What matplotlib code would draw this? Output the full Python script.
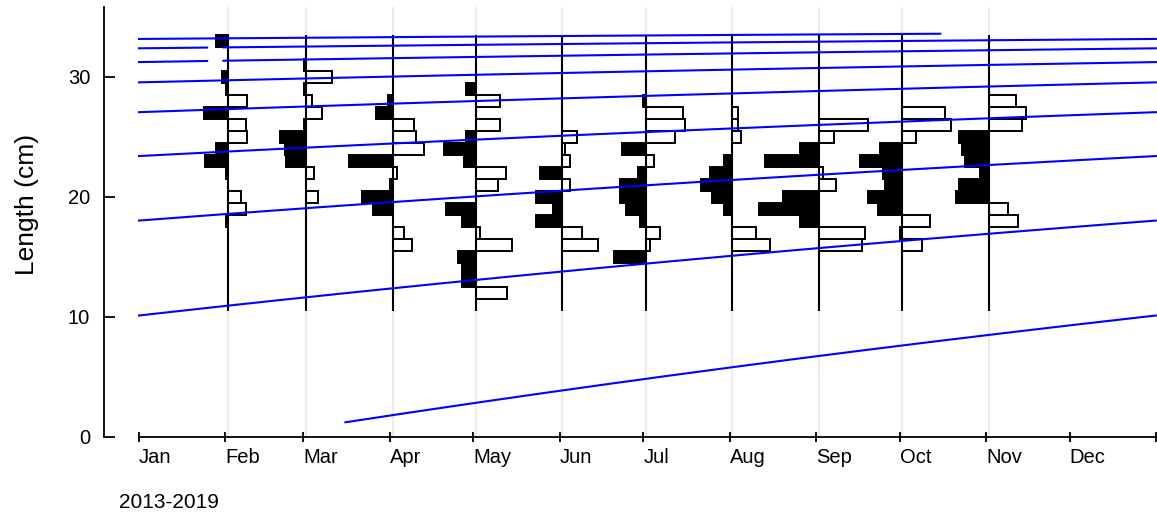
import numpy as np
import matplotlib
matplotlib.use('Agg')
import matplotlib.pyplot as plt

plt.rcParams['font.family'] = ['Liberation Sans', 'DejaVu Sans']

# length classes (cm), mid points of 1 cm bins
length_mids = [11, 12, 13, 14, 15, 16, 17, 18, 19, 20, 21, 22,
               23, 24, 25, 26, 27, 28, 29, 30, 31, 32, 33]

# sampling dates, days since 1 Jan
sample_days = [32, 60, 91, 121, 152, 182, 213, 244, 274, 305]

# restructured scores per sample, from 11 cm up to 33 cm
# positive = peak (black, drawn left), negative = trough (white, drawn right)
rc_feb = [0, 0, 0, 0, 0, 0, 0, 0.03, -0.30, -0.22, 0, 0.04,
          0.38, 0.21, -0.32, -0.29, 0.41, -0.32, 0.04, 0.11, 0, 0, 0.21]
rc_mar = [0, 0, 0, 0, 0, 0, 0, 0, 0, -0.20, 0, -0.13,
          0.33, 0.36, 0.44, 0.04, -0.26, -0.10, 0.03, -0.43, 0.04, 0, 0]
rc_apr = [0, 0, 0, 0, 0, -0.33, -0.20, 0, 0.32, 0.51, 0.04, -0.07,
          0.73, -0.53, -0.39, -0.36, 0.28, 0.08, 0, 0, 0, 0, 0]
rc_may = [0, -0.52, 0.23, 0.23, 0.30, -0.60, -0.06, 0.23, 0.50, 0, -0.36, -0.50,
          0.20, 0.53, 0.17, -0.40, 0, -0.40, 0.17, 0, 0, 0, 0]
rc_jun = [0, 0, 0, 0, 0, -0.60, -0.33, 0.44, 0.15, 0.44, -0.13, 0.37,
          -0.13, -0.05, -0.24, 0, 0, 0, 0, 0, 0, 0, 0]
rc_jul = [0, 0, 0, 0, 0.53, -0.07, -0.23, 0.10, 0.33, 0.43, 0.43, 0.14,
          -0.14, 0.40, -0.49, -0.65, -0.62, 0.05, 0, 0, 0, 0, 0]
rc_aug = [0, 0, 0, 0, 0, -0.62, -0.40, 0, 0.14, 0.34, 0.53, 0.37,
          0.14, 0, -0.14, -0.09, -0.10, 0, 0, 0, 0, 0, 0]
rc_sep = [0, 0, 0, 0, 0, -0.72, -0.78, 0.31, 1.00, 0.60, -0.29, -0.07,
          0.90, 0.31, -0.26, -0.83, 0, 0, 0, 0, 0, 0, 0]
rc_oct = [0, 0, 0, 0, 0, -0.33, 0.04, -0.46, 0.40, 0.57, 0.29, 0.33,
          0.70, 0.37, -0.22, -0.82, -0.72, 0, 0, 0, 0, 0, 0]
rc_nov = [0, 0, 0, 0, 0, 0, 0, -0.49, -0.33, 0.54, 0.50, 0.15,
          0.40, 0.44, 0.50, -0.56, -0.62, -0.46, 0, 0, 0, 0, 0]
rcounts = [rc_feb, rc_mar, rc_apr, rc_may, rc_jun,
           rc_jul, rc_aug, rc_sep, rc_oct, rc_nov]

month_labels = ['Jan', 'Feb', 'Mar', 'Apr', 'May', 'Jun',
                'Jul', 'Aug', 'Sep', 'Oct', 'Nov', 'Dec']
month_starts = [0, 31, 59, 90, 120, 151, 181, 212, 243, 273, 304, 334]

# VBGF growth parameters
Linf = 34.8
K = 0.386
t_anchor = 0.112

# cohort curves: age at start of year, visible part (fraction of year)
cohort_age = [0, 1, 2, 3, 4, 5, 6, 6, 7, 7, 8]
cohort_t0 = [0.203, 0.0, 0.0, 0.0, 0.0, 0.0, 0.0, 0.083, 0.0, 0.083, 0.0]
cohort_t1 = [1.0, 1.0, 1.0, 1.0, 1.0, 1.0, 0.067, 1.0, 0.067, 1.0, 0.788]

bar_scale = 21.5  # days per unit score
lw = 1.4

fig = plt.figure(figsize=(11.57, 5.15), dpi=100)
ax = fig.add_axes([104 / 1157, 1 - 436.7 / 515, 1053 / 1157, 429.4 / 515])

# light grid at sampling dates
for d in sample_days:
    ax.axvline(d, color='#ebebeb', lw=1.5, zorder=0)

# length-frequency bars
mids = np.array(length_mids)
for d, rc in zip(sample_days, rcounts):
    rc = np.array(rc)
    keep = rc != 0
    cols = np.where(rc[keep] > 0, 'black', 'white')
    ax.barh(mids[keep], -rc[keep] * bar_scale, left=d, height=1.0,
            color=cols, edgecolor='black', lw=lw, zorder=2)

ax.vlines(sample_days, length_mids[0] - 0.5, length_mids[-1] + 0.5,
          color='black', lw=1.5, zorder=3)

# growth curves
for a, t0, t1 in zip(cohort_age, cohort_t0, cohort_t1):
    t = np.linspace(t0, t1, 200)
    L = Linf * (1 - np.exp(-K * (t + a - t_anchor)))
    ax.plot(t * 365, L, color='#0000ff', lw=1.5, zorder=4)

ax.set_xlim(-12.56, 365.4)
ax.set_ylim(0, 35.78)

for s in ['top', 'right']:
    ax.spines[s].set_visible(False)
ax.spines['bottom'].set_bounds(0, 365)
ax.spines['bottom'].set_linewidth(1.3)
ax.spines['left'].set_linewidth(1.3)

ax.set_xticks(month_starts + [365], month_labels + [''])
for lbl in ax.get_xticklabels():
    lbl.set_ha('left')
ax.set_yticks([0, 10, 20, 30])
ax.tick_params(axis='x', direction='inout', length=6.5, width=1.3, pad=5, labelsize=14.5)
ax.tick_params(axis='y', direction='in', length=8, width=1.3, pad=10, labelsize=14.5)

fig.text(27 / 1157, 1 - 204 / 515, 'Length (cm)', rotation=90,
         ha='center', va='center', fontsize=19)
fig.text(119 / 1157, 1 - 508 / 515, '2013-2019', ha='left', va='baseline', fontsize=15)

fig.savefig('out.png', dpi=100)
